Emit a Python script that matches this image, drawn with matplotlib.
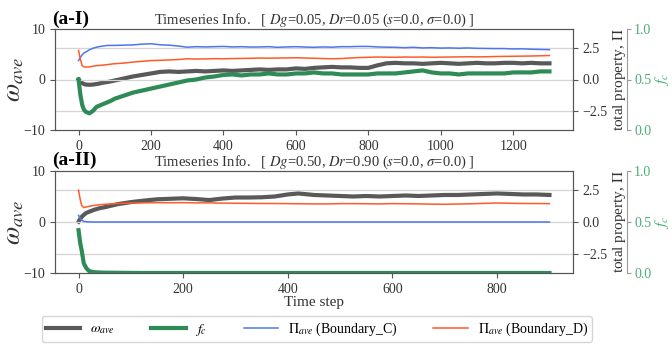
import numpy as np
import matplotlib
matplotlib.use("Agg")
import matplotlib.pyplot as plt
from matplotlib.lines import Line2D

plt.rcParams['font.family'] = 'serif'
plt.rcParams['font.serif'] = ['Liberation Serif', 'DejaVu Serif']
plt.rcParams['mathtext.fontset'] = 'stix'

# ---- panel (a-I) data ----
t1 = [0, 5, 10, 15, 20, 30, 40, 50, 60, 70, 80, 90, 100, 125, 150, 175, 200, 225, 250, 275,
      300, 325, 350, 375, 400, 425, 450, 475, 500, 525, 550, 575, 600, 625, 650, 675, 700,
      725, 750, 775, 800, 825, 850, 875, 900, 925, 950, 975, 1000, 1025, 1050, 1075, 1100,
      1125, 1150, 1175, 1200, 1225, 1250, 1275, 1300]
omega1 = [0.0, -0.4, -0.7, -0.9, -1.0, -1.05, -1.0, -0.9, -0.75, -0.6, -0.5, -0.35, -0.2,
          0.2, 0.6, 0.9, 1.2, 1.5, 1.6, 1.5, 1.6, 1.7, 1.6, 1.7, 1.8, 1.7, 1.8, 1.9, 2.0,
          1.9, 2.0, 2.0, 2.2, 2.1, 2.3, 2.4, 2.5, 2.4, 2.4, 2.3, 2.3, 2.8, 3.2, 3.3, 3.2,
          3.2, 3.1, 3.2, 3.3, 3.2, 3.1, 3.2, 3.3, 3.2, 3.2, 3.3, 3.3, 3.2, 3.3, 3.2, 3.2]
fc1 = [0.5, 0.35, 0.25, 0.2, 0.18, 0.165, 0.19, 0.23, 0.245, 0.26, 0.275, 0.29, 0.31,
       0.34, 0.37, 0.39, 0.41, 0.43, 0.45, 0.47, 0.49, 0.5, 0.52, 0.53, 0.545, 0.55, 0.54,
       0.55, 0.55, 0.56, 0.55, 0.55, 0.56, 0.56, 0.57, 0.56, 0.56, 0.55, 0.55, 0.55, 0.55,
       0.56, 0.56, 0.56, 0.57, 0.58, 0.59, 0.57, 0.56, 0.56, 0.55, 0.56, 0.56, 0.56, 0.56,
       0.56, 0.57, 0.57, 0.57, 0.58, 0.58]
pic1 = [1.5, 1.75, 1.95, 2.1, 2.17, 2.35, 2.48, 2.56, 2.62, 2.66, 2.7, 2.7, 2.7, 2.72,
        2.74, 2.8, 2.83, 2.75, 2.72, 2.65, 2.56, 2.6, 2.58, 2.6, 2.62, 2.58, 2.6, 2.57,
        2.58, 2.6, 2.55, 2.58, 2.6, 2.57, 2.55, 2.58, 2.56, 2.6, 2.6, 2.62, 2.62, 2.58,
        2.56, 2.55, 2.52, 2.55, 2.5, 2.52, 2.49, 2.5, 2.48, 2.5, 2.47, 2.46, 2.45, 2.45,
        2.42, 2.43, 2.4, 2.38, 2.36]
pid1 = [2.3, 1.6, 1.1, 1.0, 0.98, 1.0, 1.05, 1.1, 1.12, 1.15, 1.18, 1.22, 1.25, 1.3,
        1.38, 1.44, 1.5, 1.52, 1.55, 1.58, 1.64, 1.62, 1.63, 1.65, 1.64, 1.66, 1.67, 1.68,
        1.7, 1.69, 1.7, 1.71, 1.72, 1.7, 1.68, 1.66, 1.64, 1.66, 1.7, 1.74, 1.76, 1.78,
        1.77, 1.76, 1.78, 1.77, 1.78, 1.76, 1.77, 1.78, 1.79, 1.8, 1.79, 1.8, 1.82, 1.83,
        1.84, 1.85, 1.86, 1.88, 1.9]

# ---- panel (a-II) data ----
t2 = [0, 3, 6, 10, 15, 20, 25, 30, 40, 50, 75, 100, 125, 150, 175, 200, 225, 250, 275,
      300, 325, 350, 375, 400, 420, 450, 475, 500, 525, 550, 575, 600, 625, 650, 675, 700,
      725, 750, 775, 800, 825, 850, 875, 900]
omega2 = [0.06, 0.6, 1.0, 1.4, 1.8, 2.0, 2.2, 2.4, 2.7, 2.9, 3.5, 3.9, 4.2, 4.45, 4.55,
          4.65, 4.5, 4.3, 4.6, 4.8, 4.8, 4.85, 5.0, 5.4, 5.6, 5.3, 5.2, 5.1, 5.0, 5.1, 5.0,
          5.1, 5.2, 5.1, 5.2, 5.3, 5.3, 5.4, 5.5, 5.6, 5.5, 5.4, 5.4, 5.3]
fc2 = [0.42, 0.3, 0.22, 0.095, 0.046, 0.02, 0.012, 0.008, 0.005, 0.003, 0.002, 0.001,
       0.0, 0.0, 0.0, 0.0, 0.0, 0.0, 0.0, 0.0, 0.0, 0.0, 0.0, 0.0, 0.0, 0.0, 0.0, 0.0,
       0.0, 0.0, 0.0, 0.0, 0.0, 0.0, 0.0, 0.0, 0.0, 0.0, 0.0, 0.0, 0.0, 0.0, 0.0, 0.0]
pic2 = [0.52, 0.3, 0.15, 0.05, 0.02, 0.01, 0.0, 0.0, 0.0, 0.0, 0.0, 0.0, 0.0, 0.0, 0.0,
        0.0, 0.0, 0.0, 0.0, 0.0, 0.0, 0.0, 0.0, 0.0, 0.0, 0.0, 0.0, 0.0, 0.0, 0.0, 0.0,
        0.0, 0.0, 0.0, 0.0, 0.0, 0.0, 0.0, 0.0, 0.0, 0.0, 0.0, 0.0, 0.0]
pid2 = [2.5, 1.8, 1.3, 1.13, 1.18, 1.23, 1.27, 1.3, 1.35, 1.39, 1.45, 1.49, 1.5, 1.52,
        1.51, 1.52, 1.5, 1.5, 1.48, 1.47, 1.46, 1.45, 1.45, 1.44, 1.43, 1.42, 1.42, 1.44,
        1.44, 1.43, 1.42, 1.44, 1.43, 1.42, 1.4, 1.39, 1.41, 1.43, 1.46, 1.49, 1.47, 1.45,
        1.45, 1.44]

titles = ['Timeseries Info.   [ $Dg$=0.05, $Dr$=0.05 ($s$=0.0, $\\sigma$=0.0) ]',
          'Timeseries Info.   [ $Dg$=0.50, $Dr$=0.90 ($s$=0.0, $\\sigma$=0.0) ]']
panel_labels = ['(a-I)', '(a-II)']
xticks_list = [[0, 200, 400, 600, 800, 1000, 1200], [0, 200, 400, 600, 800]]

c_omega = '#595959'
c_fc = '#2e8b57'
c_fc_txt = '#4aad74'
c_pic = '#4f74ee'
c_pid = '#ff5a28'
c_txt = '#333333'

fig = plt.figure(figsize=(6.72, 3.44), dpi=100)
W, H = 672, 344
boxes = [(55, 29, 573, 130), (55, 171, 573, 273)]
data = [(t1, omega1, fc1, pic1, pid1), (t2, omega2, fc2, pic2, pid2)]

for i, ((x0, y0, x1, y1), (t, om, fc, pc, pd)) in enumerate(zip(boxes, data)):
    ax = fig.add_axes([x0 / W, 1 - y1 / H, (x1 - x0) / W, (y1 - y0) / H])
    ax2 = ax.twinx()
    ax3 = ax.twinx()

    ax2.yaxis.grid(True, color='#d4d4d4', lw=0.9)
    ax2.set_axisbelow(True)

    ax.plot(t, om, color=c_omega, lw=3.0)
    ax3.plot(t, fc, color=c_fc, lw=3.0)
    ax2.plot(t, pc, color=c_pic, lw=1.1)
    ax2.plot(t, pd, color=c_pid, lw=1.1)

    ax.set_ylim(-10, 10)
    ax.set_yticks([-10, 0, 10])
    ax2.set_ylim(-4, 4)
    ax2.set_yticks([-2.5, 0.0, 2.5])
    ax3.set_ylim(0, 1)
    ax3.set_yticks([0.0, 0.5, 1.0])
    ax.set_xticks(xticks_list[i])
    ax.margins(x=0.05)

    ax3.spines['right'].set_position(('outward', 39))
    for s in ['top', 'left', 'bottom']:
        ax3.spines[s].set_visible(False)
    ax3.spines['right'].set_color('#999999')
    ax3.tick_params(axis='y', colors='#999999', labelcolor=c_fc_txt, labelsize=10,
                    length=3, pad=2)
    ax3.set_ylabel('$f_c$', color=c_fc_txt, fontsize=11.5, labelpad=1)

    for a in (ax, ax2):
        for s in a.spines.values():
            s.set_color('#555555')
        a.tick_params(colors='#555555', labelcolor=c_txt, labelsize=10, length=3.5)
    ax2.set_ylabel('total property, $\\Pi$', color=c_txt, fontsize=11, labelpad=2)
    ax.set_ylabel('$\\omega_{ave}$', color=c_txt, fontsize=19, labelpad=-2)

    ax.set_title(titles[i], fontsize=10.5, color=c_txt, pad=3)
    ax.text(-0.006, 1.055, panel_labels[i], transform=ax.transAxes, fontsize=14,
            fontweight='bold', ha='left', va='baseline', color='black')
    if i == 1:
        ax.set_xlabel('Time step', fontsize=11, color=c_txt, labelpad=0)

handles = [Line2D([], [], color=c_omega, lw=3.0),
           Line2D([], [], color=c_fc, lw=3.0),
           Line2D([], [], color=c_pic, lw=1.1),
           Line2D([], [], color=c_pid, lw=1.1)]
labels = ['$\\omega_{ave}$', '$f_c$', '$\\Pi_{ave}$ (Boundary_C)', '$\\Pi_{ave}$ (Boundary_D)']
fig.legend(handles, labels, loc='lower left', bbox_to_anchor=(41.5 / W, 2 / H), ncol=4,
           fontsize=10, frameon=True, edgecolor='#cccccc', fancybox=True,
           handlelength=2.5, columnspacing=2.6, handletextpad=0.7, borderpad=0.3,
           borderaxespad=0)

fig.savefig('out.png', dpi=100)
